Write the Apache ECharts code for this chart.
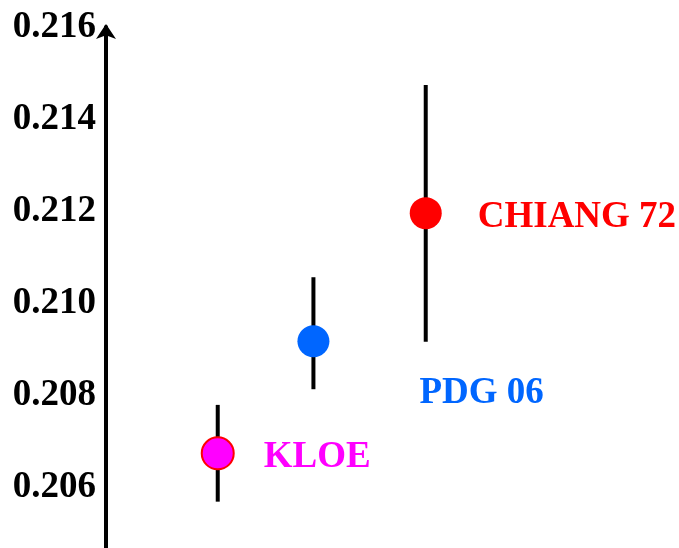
<!DOCTYPE html>
<html>
<head>
<meta charset="utf-8">
<script src="https://cdn.jsdelivr.net/npm/echarts@6/dist/echarts.min.js"></script>
<style>
html,body{margin:0;padding:0;background:#fff;}
#chart{width:679px;height:548px;}
</style>
</head>
<body>
<div id="chart"></div>
<script>
// Data
const names = ['KLOE', 'PDG 06', 'CHIANG 72'];
const xPos = [1.95, 3.62, 5.58];
const values = [0.20675, 0.20918, 0.21196];
const lows = [0.20570, 0.20814, 0.20917];
const highs = [0.20780, 0.21057, 0.21474];
const yTicks = [0.204, 0.206, 0.208, 0.210, 0.212, 0.214, 0.216];

// Styles (not data)
const fills = ['#ff00ff', '#0066ff', '#ff0000'];
const borders = ['#ff0000', '#0066ff', '#ff0000'];
const borderW = [2, 0, 0];
const labelOffsets = [[29, 4], [90, 52], [36, 4]];

const chart = echarts.init(document.getElementById('chart'));
const font = 'Liberation Serif, Times New Roman, serif';

const scatterData = names.map((n, i) => ({
  name: n,
  value: [xPos[i], values[i]],
  itemStyle: { color: fills[i], borderColor: borders[i], borderWidth: borderW[i], opacity: 1 },
  label: {
    show: true,
    formatter: n,
    position: 'right',
    distance: 0,
    offset: labelOffsets[i],
    color: fills[i],
    fontFamily: font,
    fontWeight: 'bold',
    fontSize: 37
  }
}));

const barData = names.map((n, i) => [xPos[i], lows[i], highs[i]]);

chart.setOption({
  animation: false,
  grid: { left: 106, right: 0, top: 27, height: 553, containLabel: false, outerBoundsMode: 'none' },
  xAxis: {
    type: 'value', min: 0, max: 10, show: false
  },
  yAxis: {
    type: 'value',
    min: yTicks[0],
    max: yTicks[yTicks.length - 1],
    interval: 0.002,
    axisLine: {
      show: true,
      lineStyle: { color: '#000', width: 4 },
      symbol: ['none', 'arrow'],
      symbolSize: [15, 15],
      symbolOffset: [0, 3]
    },
    axisTick: { show: false },
    splitLine: { show: false },
    axisLabel: {
      margin: 10,
      color: '#000',
      fontFamily: font,
      fontWeight: 'bold',
      fontSize: 37,
      formatter: v => v.toFixed(3),
      showMinLabel: true,
      showMaxLabel: true
    }
  },
  series: [
    {
      type: 'custom',
      z: 2,
      data: barData,
      renderItem: function (params, api) {
        const x = api.value(0), lo = api.value(1), hi = api.value(2);
        const p1 = api.coord([x, lo]);
        const p2 = api.coord([x, hi]);
        return {
          type: 'line',
          shape: { x1: p1[0], y1: p1[1], x2: p2[0], y2: p2[1] },
          style: { stroke: '#000', lineWidth: 4 }
        };
      }
    },
    {
      type: 'scatter',
      z: 3,
      symbol: 'circle',
      symbolSize: 32,
      data: scatterData
    }
  ]
});
</script>
</body>
</html>
